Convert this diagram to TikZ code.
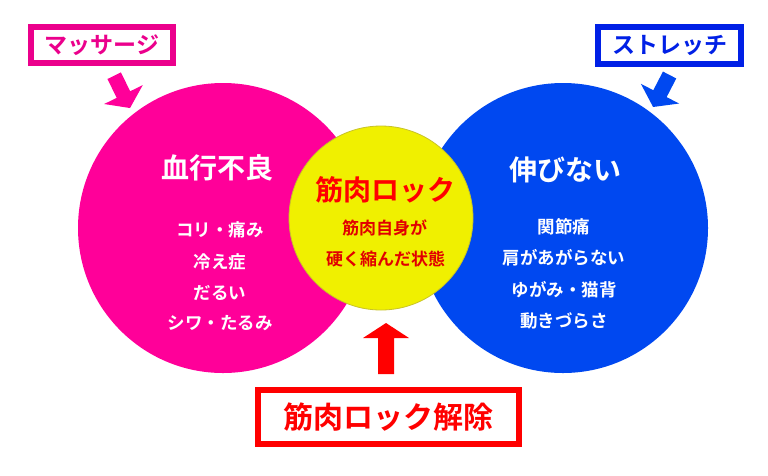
\documentclass[tikz,border=0pt]{standalone}
\usepackage{fontspec}
\newfontfamily\jp{Noto Sans CJK JP}[BoldFont={Noto Sans CJK JP Bold}]
\definecolor{pinkc}{RGB}{255,0,153}
\definecolor{pinkbox}{RGB}{235,0,140}
\definecolor{bluec}{RGB}{0,72,240}
\definecolor{bluebox}{RGB}{0,32,230}
\definecolor{yellowc}{RGB}{240,240,0}
\definecolor{yellowedge}{RGB}{200,195,40}
\definecolor{redc}{RGB}{255,0,0}
\definecolor{redtxt}{RGB}{225,0,0}
\begin{document}
\begin{tikzpicture}[x=1pt,y=-1pt,
  ttl/.style={font=\jp\bfseries\fontsize{28}{30}\selectfont, text=white, inner sep=0pt},
  itm/.style={font=\jp\bfseries\fontsize{17.5}{19}\selectfont, text=white, inner sep=0pt},
  lbox/.style={draw, line width=6pt, fill=white, inner sep=0pt, font=\jp\bfseries\fontsize{23}{25}\selectfont},
  arrowshape/.style={}
]
\useasboundingbox (0,0) rectangle (768,475);
\fill[white] (0,0) rectangle (768,475);
% circles
\node[circle, fill=pinkc, minimum size=290pt, inner sep=0pt] (pinkcirc) at (223,228) {};
\node[circle, fill=bluec, minimum size=290pt, inner sep=0pt] (bluecirc) at (563,228) {};
\node[circle, fill=yellowc, draw=yellowedge, line width=0.8pt, minimum size=184pt, inner sep=0pt] (yelcirc) at (381,218) {};
% pink texts
\node[ttl] (t1) at (217,168) {血行不良};
\node[itm] (p1) at (220,230) {コリ・痛み};
\node[itm] (p2) at (220,262) {冷え症};
\node[itm] (p3) at (220,293) {だるい};
\node[itm] (p4) at (220,323) {シワ・たるみ};
% blue texts
\node[ttl] (t2) at (565,170) {伸びない};
\node[itm] (b1) at (564,227) {関節痛};
\node[itm] (b2) at (564,258) {肩があがらない};
\node[itm] (b3) at (564,290) {ゆがみ・猫背};
\node[itm] (b4) at (564,321) {動きづらさ};
% yellow texts
\node[font=\jp\bfseries\fontsize{28}{30}\selectfont, text=redc, inner sep=0pt] (t3) at (385,190) {筋肉ロック};
\node[font=\jp\bfseries\fontsize{17}{19}\selectfont, text=redtxt, inner sep=0pt] (y1) at (384.5,228) {筋肉自身が};
\node[font=\jp\bfseries\fontsize{17}{19}\selectfont, text=redtxt, inner sep=0pt] (y2) at (385.5,259) {硬く縮んだ状態};
% label boxes
\node[lbox, draw=pinkbox, text=pinkbox, minimum width=142pt, minimum height=36pt] (massage) at (102,45) {マッサージ};
\node[lbox, draw=bluebox, text=bluebox, minimum width=143pt, minimum height=37pt] (stretch) at (669.5,45.5) {ストレッチ};
\node[draw=redc, line width=5.5pt, fill=white, text=redc, inner sep=0pt, minimum width=261pt, minimum height=54pt,
      font=\jp\bfseries\fontsize{30}{32}\selectfont] (release) at (388.5,417) {筋肉ロック解除};
% block arrows
\begin{scope}[shift={(114.2,75.7)}, rotate=-63.9]
  \fill[pinkc] (0,-7.5) -- (21,-7.5) -- (21,-21.5) -- (36,0) -- (21,21.5) -- (21,7.5) -- (0,7.5) -- cycle;
\end{scope}
\begin{scope}[shift={(669.6,75)}, rotate=-117.3]
  \fill[bluec] (0,-7.5) -- (21,-7.5) -- (21,-21.5) -- (36,0) -- (21,21.5) -- (21,7.5) -- (0,7.5) -- cycle;
\end{scope}
\begin{scope}[shift={(386,374)}, rotate=90]
  \fill[redc] (0,-8) -- (36,-8) -- (36,-23) -- (51,0) -- (36,23) -- (36,8) -- (0,8) -- cycle;
\end{scope}
\end{tikzpicture}
\end{document}
